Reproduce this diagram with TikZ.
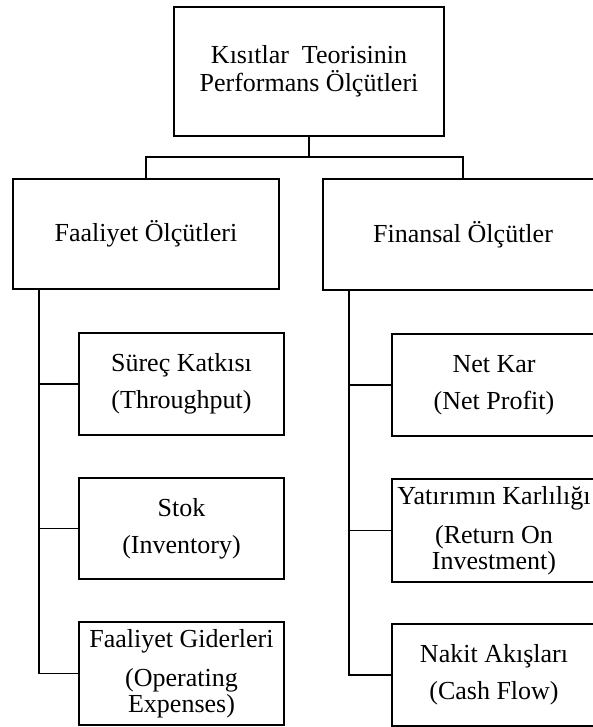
\documentclass[tikz,border=0pt]{standalone}
\usepackage{fontspec}
\setmainfont{Liberation Serif}
\begin{document}
\begin{tikzpicture}[x=1pt,y=-1pt,
  box/.style={draw, line width=2pt, align=center, inner sep=0pt,
    font=\fontsize{26}{28}\selectfont},
  link/.style={line width=2pt},
  spine/.style={line width=2.8pt},
  branch/.style={line width=1.5pt}]
\useasboundingbox (0,0) rectangle (592,727);
\fill[white] (0,0) rectangle (592,727);

% root
\node[box, minimum width=270pt, minimum height=129pt] (top) at (309,71.5)
  {Kısıtlar\ \ Teorisinin\\Performans Ölçütleri};

% two groups
\node[box, minimum width=266pt, minimum height=110pt] (fa) at (146,234)
  {Faaliyet Ölçütleri};
\node[box, minimum width=280pt, minimum height=111pt] (fi) at (463,234.5)
  {Finansal Ölçütler};

% operational measures
\node[box, minimum width=205pt, minimum height=102pt] (s1) at (181.5,384)
  {Süreç Katkısı\\[9pt](Throughput)};
\node[box, minimum width=205pt, minimum height=101pt] (s2) at (181.5,528.5)
  {Stok\\[9pt](Inventory)};
\node[box, minimum width=205pt, minimum height=103pt] (s3) at (181.5,673.5)
  {Faaliyet Giderleri\\[11pt](Operating\\[-2pt]Expenses)};

% financial measures
\node[box, minimum width=204pt, minimum height=102pt] (n1) at (494,385)
  {Net Kar\\[9pt](Net Profit)};
\node[box, minimum width=204pt, minimum height=103pt] (n2) at (494,530.5)
  {Yatırımın Karlılığı\\[11pt](Return On\\[-2pt]Investment)};
\node[box, minimum width=204pt, minimum height=102pt] (n3) at (494,675)
  {Nakit Akışları\\[9pt](Cash Flow)};

% root to groups
\draw[link] (top.south) -- ++(0,20) coordinate (bar);
\draw[link] (fa.north) |- (bar) -| (fi.north);

% left spine
\coordinate (lsp) at ([xshift=27pt]fa.south west);
\draw[spine] (lsp) -- (lsp |- s3.west);
\draw[branch] (s1.west) -- (s1.west -| lsp);
\draw[branch] (s2.west) -- (s2.west -| lsp);
\draw[branch] (s3.west) -- ([xshift=-1.4pt]s3.west -| lsp);

% right spine
\coordinate (rsp) at ([xshift=27pt]fi.south west);
\draw[spine] (rsp) -- (rsp |- n3.west);
\draw[branch] (n1.west) -- (n1.west -| rsp);
\draw[branch] (n2.west) -- (n2.west -| rsp);
\draw[branch] (n3.west) -- ([xshift=-1.4pt]n3.west -| rsp);
\end{tikzpicture}
\end{document}
